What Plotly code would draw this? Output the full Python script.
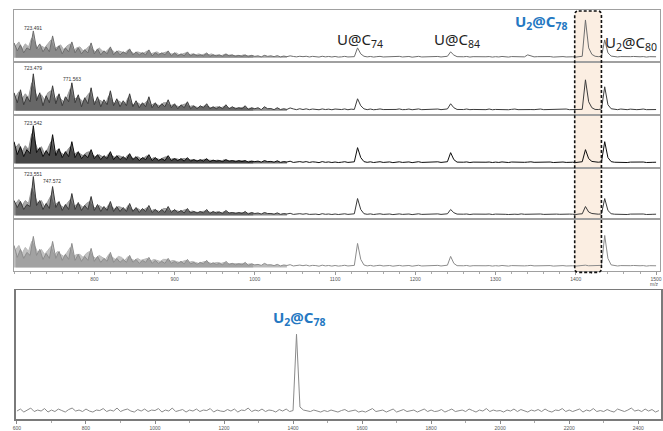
import plotly.graph_objects as go

W, H = 663, 431

# ---------------- data (relative intensities) ----------------
# Top stack: profile spectra sampled every 4 m/z starting at 700 (dark traces)
TOP_START, TOP_STEP = 700, 4
# lighter overlay traces in the low-mass region, sampled every 4 m/z starting at 702
LIGHT_START = 702
# samples of the dense low-mass (cluster) region drawn as filled profile
CLUSTER_SAMPLES = 86

p1_dark = [
    15, 7, 13, 5, 10, 8, 27, 9, 14, 6,
    11, 6, 22, 7, 12, 4, 10, 6, 16, 5,
    10, 4, 8, 5, 15, 4, 9, 3, 7, 4,
    11, 3, 7, 3, 6, 4, 9, 3, 6, 3,
    5, 3, 8, 2, 5, 3, 5, 3, 7, 2,
    5, 2, 4, 2, 6, 2, 4, 2, 3, 2,
    5, 1.5, 3, 2, 3, 1.5, 4, 2, 3, 1.5,
    2.5, 1.5, 3, 1.2, 2.5, 1.5, 2, 1, 2.5, 1.5,
    2, 1.2, 2.2, 1, 1.8, 1.2, 2, 1.4, 1, 1.6,
    1.2, 1.6, 0.9, 1.5, 1.1, 0.8, 1.6, 1, 1.4, 0.9,
    1.4, 0.8, 1, 1.5, 0.9, 1.3, 1.2, 10, 4, 1.6,
    1, 1.4, 0.8, 1.2, 1.5, 0.9, 1.1, 1.3, 0.8, 1.2,
    1.5, 0.9, 1.1, 1.4, 0.7, 1.2, 1.5, 0.9, 1, 1.3,
    0.8, 1.2, 1.4, 0.9, 1.1, 1.6, 6, 2.8, 1.2, 0.9,
    1.1, 1.4, 0.8, 1.2, 1, 1.5, 0.9, 1.1, 1.3, 0.8,
    1.2, 0.9, 1.4, 1, 0.8, 1.3, 1.1, 0.9, 1.4, 1,
    3, 1.6, 1, 1.2, 1.4, 0.9, 1.1, 1.3, 0.8, 1.2,
    1, 1.3, 0.9, 1.2, 1.1, 0.8, 1.4, 1.6, 38, 10,
    3.5, 1.6, 1.2, 1.5, 18, 5, 1.8, 1.1, 0.9, 1.3,
    1.1, 0.8, 1.2, 1.4, 0.9, 1.1, 1.3, 0.8, 1.2, 1,
    1.1,
]
p1_light = [
    12, 16, 9, 14, 11, 20, 15, 8, 12, 10,
    14, 18, 9, 11, 13, 8, 12, 14, 7, 10,
    11, 7, 9, 12, 8, 6, 10, 7, 6, 9,
    8, 5, 7, 6, 5, 8, 6, 4, 6, 5,
    5, 7, 4, 5, 6, 4, 5, 6, 4, 4,
    5, 3, 4, 5, 3, 4, 3, 4, 3, 4,
    3, 4, 2.5, 3, 2, 3.5, 2.5, 3, 2, 2.5,
    2, 3, 1.8, 2.4, 1.5,
]

p2_dark = [
    18, 8, 21, 6, 14, 9, 37, 10, 18, 5,
    15, 8, 25, 7, 17, 5, 14, 9, 28, 8,
    16, 4, 13, 7, 23, 6, 14, 4, 11, 6,
    20, 5, 12, 4, 10, 5, 17, 4, 10, 3,
    8, 4, 14, 3, 8, 3, 7, 4, 11, 3,
    7, 2, 6, 3, 9, 2, 5, 2, 5, 3,
    7, 2, 4, 2, 4, 2, 6, 2, 4, 2,
    3, 2, 5, 1.2, 3, 2, 3, 1.1, 4, 2,
    2.2, 1.1, 3, 1.2, 2, 1.3, 2.8, 1.8, 1.1, 2,
    1.2, 1.9, 1.1, 1.7, 1.3, 1, 1.8, 1.2, 1.6, 1,
    1.7, 1.1, 1.2, 1.8, 1, 1.6, 1.3, 12, 5, 1.9,
    1.1, 1.7, 1, 1.3, 1.8, 1.2, 1.1, 1.6, 1, 1.3,
    1.8, 1.1, 1.2, 1.7, 1, 1.3, 1.8, 1.1, 1.2, 1.6,
    1, 1.3, 1.7, 1.1, 1.2, 1.8, 7, 3, 1.3, 1.1,
    1.2, 1.7, 1.1, 1.3, 1.1, 1.6, 1.2, 1.1, 1.7, 1,
    1.3, 1.1, 1.6, 1.2, 1, 1.4, 1.7, 1.1, 1.3, 1.2,
    1.6, 1.2, 1.1, 1.3, 1.7, 1.1, 1.2, 1.3, 1.6, 1.1,
    1.2, 1.3, 1.7, 1.1, 1.2, 1.3, 1.1, 1.4, 31, 9,
    3, 1.3, 1.2, 1.8, 24, 6, 2, 1.2, 1.1, 1.7,
    1.2, 1.1, 1.6, 1.2, 1.1, 1.3, 1.7, 1.1, 1.2, 1.3,
    1.2,
]
p2_light = [
    14, 19, 12, 17, 13, 28, 19, 12, 16, 11,
    18, 20, 10, 15, 12, 9, 14, 22, 11, 13,
    12, 9, 14, 18, 10, 8, 11, 9, 7, 15,
    9, 7, 10, 8, 6, 13, 7, 6, 8, 6,
    7, 10, 5, 7, 6, 5, 8, 8, 5, 6,
    5, 4, 6, 7, 4, 5, 4, 3, 4, 5,
    4, 3, 3.5, 4, 3, 4.5, 3, 2.5, 3, 2.5,
    3, 3.5, 2, 2.5, 2,
]

p3_dark = [
    22, 9, 17, 7, 14, 10, 38, 11, 16, 7,
    13, 8, 29, 8, 15, 6, 12, 7, 22, 6,
    12, 5, 9, 6, 14, 5, 9, 4, 8, 5,
    12, 4, 8, 4, 7, 4, 10, 4, 7, 3,
    6, 4, 9, 3, 6, 3, 5, 3, 8, 3,
    5, 3, 5, 2.5, 6, 2.5, 4, 2.5, 4, 2.5,
    5, 2, 3.5, 2.5, 3, 2, 4, 2.5, 3, 2,
    3, 2, 3, 1.5, 2.5, 2, 2.5, 1.5, 3, 2,
    2.2, 1.5, 2.8, 1.3, 2, 1.6, 2.4, 1.2, 1.8, 2,
    1.4, 2, 1.2, 1.8, 1.5, 1, 2, 1.3, 1.7, 1.1,
    1.6, 1.1, 1.4, 1.9, 1.2, 1.5, 1.8, 16, 6, 2,
    1.3, 1.8, 1.1, 1.5, 1.9, 1.2, 1.4, 1.7, 1, 1.5,
    1.8, 1.2, 1.4, 1.7, 1, 1.5, 1.9, 1.2, 1.3, 1.6,
    1.1, 1.5, 1.8, 1.2, 1.4, 1.9, 11, 4, 1.5, 1.2,
    1.4, 1.7, 1.1, 1.5, 1.3, 1.8, 1.2, 1.4, 1.6, 1.1,
    1.5, 1.2, 1.7, 1.3, 1.1, 1.6, 1.4, 1.2, 1.7, 1.3,
    1.5, 1.8, 1.3, 1.5, 1.7, 1.2, 1.4, 1.6, 1.1, 1.5,
    1.3, 1.6, 1.2, 1.5, 1.4, 1.1, 1.7, 1.9, 14, 5,
    2.2, 1.6, 1.4, 1.8, 22, 6, 2, 1.4, 1.2, 1.6,
    1.4, 1.1, 1.5, 1.7, 1.2, 1.4, 1.6, 1.1, 1.5, 1.3,
    1.4,
]
p3_light = [
    16, 20, 12, 18, 14, 30, 22, 12, 17, 10,
    15, 22, 10, 14, 11, 9, 13, 17, 9, 11,
    10, 8, 11, 12, 8, 7, 9, 7, 6, 10,
    8, 6, 8, 7, 5, 9, 6, 5, 7, 5,
    6, 8, 4, 6, 5, 4, 6, 7, 4, 5,
    5, 4, 5, 5, 3.5, 4, 3.5, 3, 3.5, 4.5,
    3.5, 3, 3, 3.5, 2.5, 4, 2.5, 2.5, 3, 2.5,
    2.5, 3, 2, 2.5, 2,
]

p4_dark = [
    15, 8, 14, 6, 11, 9, 39, 10, 15, 6,
    12, 7, 29, 8, 14, 5, 11, 6, 22, 6,
    13, 5, 10, 6, 19, 5, 11, 4, 9, 5,
    14, 4, 9, 4, 8, 4, 12, 4, 8, 3,
    7, 4, 10, 3, 6, 3, 6, 3, 9, 3,
    6, 3, 5, 2.5, 7, 2.5, 4, 2.5, 4, 2.5,
    6, 2, 4, 2.5, 3.5, 2, 5, 2.5, 3, 2,
    3, 2, 4, 1.5, 3, 2, 2.5, 1.5, 3, 2,
    2, 1.4, 2.6, 1.2, 1.9, 1.5, 2.2, 1.1, 1.7, 1.8,
    1.3, 1.8, 1.1, 1.6, 1.4, 0.9, 1.8, 1.2, 1.5, 1,
    1.5, 1, 1.3, 1.7, 1.1, 1.4, 1.7, 17, 6, 1.8,
    1.2, 1.6, 1, 1.4, 1.7, 1.1, 1.3, 1.5, 0.9, 1.4,
    1.6, 1.1, 1.3, 1.5, 0.9, 1.4, 1.7, 1.1, 1.2, 1.5,
    1, 1.4, 1.6, 1.1, 1.3, 1.7, 6, 2.8, 1.4, 1.1,
    1.3, 1.5, 1, 1.4, 1.2, 1.6, 1.1, 1.3, 1.5, 1,
    1.4, 1.1, 1.5, 1.2, 1, 1.5, 1.3, 1.1, 1.6, 1.2,
    1.4, 1.6, 1.2, 1.4, 1.5, 1.1, 1.3, 1.5, 1, 1.4,
    1.2, 1.5, 1.1, 1.4, 1.3, 1, 1.5, 1.7, 9, 3.5,
    2, 1.5, 1.3, 1.6, 17, 5, 1.8, 1.3, 1.1, 1.5,
    1.3, 1, 1.4, 1.6, 1.1, 1.3, 1.5, 1, 1.4, 1.2,
    1.3,
]
p4_light = [
    12, 16, 10, 15, 12, 27, 19, 11, 15, 9,
    14, 20, 9, 13, 10, 8, 12, 16, 9, 11,
    11, 8, 12, 14, 9, 7, 10, 8, 6, 11,
    8, 6, 9, 8, 5, 10, 6, 5, 7, 5,
    6, 8, 4, 6, 5, 4, 7, 7, 4, 5,
    5, 4, 5, 6, 3.5, 4.5, 3.5, 3, 4, 4.5,
    3.5, 3, 3, 4, 2.5, 4, 2.5, 2.5, 3, 2.5,
    2.5, 3, 2, 2.5, 2,
]

p5_dark = [
    22, 10, 18, 9, 15, 12, 31, 12, 18, 8,
    14, 9, 26, 9, 16, 7, 13, 8, 24, 7,
    13, 6, 11, 7, 19, 6, 11, 5, 9, 6,
    15, 5, 9, 5, 8, 5, 12, 5, 8, 4,
    7, 5, 10, 4, 7, 4, 6, 4, 9, 4,
    6, 4, 6, 3.5, 8, 3.5, 5, 3, 5, 3.5,
    7, 3, 4.5, 3, 4, 2.5, 6, 3, 4, 2.5,
    3.5, 2.5, 5, 2, 3.5, 2.5, 3, 2, 4, 2.5,
    2.6, 1.8, 3, 1.5, 2.4, 1.9, 2.7, 1.4, 2.1, 2.3,
    1.7, 2.3, 1.4, 2, 1.8, 1.2, 2.2, 1.5, 1.9, 1.3,
    1.9, 1.3, 1.6, 2.1, 1.4, 1.7, 2, 24, 8, 2.4,
    1.5, 2, 1.3, 1.8, 2.1, 1.4, 1.6, 1.9, 1.2, 1.7,
    2, 1.4, 1.6, 1.9, 1.2, 1.7, 2.1, 1.4, 1.5, 1.8,
    1.3, 1.7, 2, 1.4, 1.6, 2.2, 11, 4, 1.7, 1.4,
    1.6, 1.9, 1.3, 1.7, 1.5, 2, 1.4, 1.6, 1.8, 1.3,
    1.7, 1.4, 1.9, 1.5, 1.3, 1.8, 1.6, 1.4, 1.9, 1.5,
    1.7, 2, 1.5, 1.7, 1.9, 1.4, 1.6, 1.8, 1.3, 1.7,
    1.5, 1.8, 1.4, 1.7, 1.6, 1.3, 1.8, 1.9, 2.2, 1.6,
    1.8, 1.5, 1.6, 2, 32, 9, 2.5, 1.6, 1.4, 1.8,
    1.6, 1.3, 1.7, 1.9, 1.4, 1.6, 1.8, 1.3, 1.7, 1.5,
    1.6,
]
p5_light = [
    18, 22, 14, 20, 16, 26, 21, 14, 18, 13,
    17, 21, 12, 16, 13, 11, 15, 20, 11, 13,
    13, 10, 14, 16, 11, 9, 12, 10, 8, 13,
    10, 8, 11, 10, 7, 11, 8, 7, 9, 7,
    8, 9, 6, 8, 7, 6, 8, 8, 6, 7,
    6, 5, 6, 7, 5, 6, 5, 4, 5, 6,
    5, 4, 4.5, 5, 4, 5, 3.5, 3.5, 4, 3.5,
    3.5, 4, 3, 3.5, 3,
]

# Bottom spectrum: sampled every 10 m/z from 600
BOT_START, BOT_STEP = 600, 10
bottom_vals = [
    2, 4, 1, 3, 5, 1.5, 3, 2, 4.5, 1,
    3, 1.5, 4, 2.5, 1, 3.5, 5, 2, 3, 1.5,
    4, 2, 1, 3, 2.5, 4.5, 1.5, 3, 2, 5,
    1.5, 3, 4, 2, 1, 3.5, 2, 4, 1.5, 3,
    2.5, 4.5, 1, 3, 2, 5, 1.5, 2.5, 3.5, 1,
    3, 2, 4, 1.5, 3, 2.5, 4.5, 1, 3, 2,
    1.5, 3.5, 2, 4, 1, 3, 2.5, 5, 1.5, 3,
    2, 4, 1.5, 3, 2.5, 1, 3.5, 2, 4, 1.5,
    2.5, 79, 6, 3, 2, 1.5, 3, 2, 1, 2.5,
    1.5, 3, 2, 1, 2.5, 3.5, 1.5, 2, 3, 1,
    2, 1, 3, 4.5, 1.5, 2, 3, 1, 2.5, 4,
    1, 2.5, 3.5, 1.5, 2, 3, 1, 2.5, 4, 1.5,
    3, 1.5, 2, 3.5, 1, 2.5, 4, 1.5, 2, 3,
    1.5, 4, 2.5, 1, 3, 2, 4.5, 1.5, 3, 2,
    2.5, 1, 3, 2, 4, 1.5, 3.5, 2, 1, 3,
    2, 3.5, 1.5, 4, 2, 1, 3, 2.5, 4.5, 1.5,
    3, 1.5, 2.5, 4, 1, 3, 2, 4.5, 1.5, 2.5,
    1.5, 3.5, 2, 1, 4, 2.5, 1.5, 3, 5, 2,
    3, 1.5, 4, 2, 3.5, 1, 2.5,
]

top_ticks = [800, 900, 1000, 1100, 1200, 1300, 1400, 1500]
bottom_ticks = [600, 800, 1000, 1200, 1400, 1600, 1800, 2000, 2200, 2400]

peak_tags = [  # (panel, m/z of tagged peak, label, height of label in panel units)
    (1, 723.491, "723.491", 30),
    (2, 723.479, "723.479", 43),
    (2, 771.563, "771.563", 32),
    (3, 723.542, "723.542", 41),
    (4, 723.551, "723.551", 42),
    (4, 747.572, "747.572", 35),
]

# ---------------- figure ----------------
def mz_axis(start, step, vals):
    return [start + step * i for i in range(len(vals))]

def rgba(hex_color, a):
    h = hex_color.lstrip("#")
    return f"rgba({int(h[0:2], 16)},{int(h[2:4], 16)},{int(h[4:6], 16)},{a})"

panels = [
    (p1_dark, p1_light, "#6e6e6e", "#a9a9a9"),
    (p2_dark, p2_light, "#3c3c3c", "#9a9a9a"),
    (p3_dark, p3_light, "#0d0d0d", "#8a8a8a"),
    (p4_dark, p4_light, "#3a3a3a", "#9a9a9a"),
    (p5_dark, p5_light, "#8c8c8c", "#b8b8b8"),
]
row_px = [(10, 62), (62, 115), (115, 168), (168, 220), (220, 272)]

def py(px):
    return 1 - px / H

def pxx(px):
    return px / W

fig = go.Figure()
TOP_RANGE = [699.8, 1504.9]
layout_axes = {}
for i, ((dark, light, cd, cl), (t, b)) in enumerate(zip(panels, row_px), start=1):
    xa = "x" if i == 1 else f"x{i}"
    ya = "y" if i == 1 else f"y{i}"
    mz_dark = mz_axis(TOP_START, TOP_STEP, dark)
    fig.add_trace(go.Scatter(x=mz_axis(LIGHT_START, TOP_STEP, light), y=light, mode="lines",
                             line=dict(color=cl, width=1), fill="tozeroy", fillcolor=rgba(cl, 0.85),
                             xaxis=xa, yaxis=ya, hoverinfo="skip"))
    # dense low-mass cluster region: filled profile
    fig.add_trace(go.Scatter(x=mz_dark[:CLUSTER_SAMPLES], y=dark[:CLUSTER_SAMPLES], mode="lines",
                             line=dict(color=cd, width=1), fill="tozeroy", fillcolor=rgba(cd, 0.6),
                             xaxis=xa, yaxis=ya, hoverinfo="skip"))
    # rest of the spectrum: thin profile line
    fig.add_trace(go.Scatter(x=mz_dark[CLUSTER_SAMPLES - 1:], y=dark[CLUSTER_SAMPLES - 1:], mode="lines",
                             line=dict(color=cd, width=1), xaxis=xa, yaxis=ya, hoverinfo="skip"))
    h = b - t
    last = (i == 5)
    layout_axes["xaxis" if i == 1 else f"xaxis{i}"] = dict(
        domain=[pxx(11), pxx(662)], range=TOP_RANGE, anchor=ya,
        showline=True, mirror=True, linecolor="#a0a0a0", linewidth=1,
        showgrid=False, zeroline=False, fixedrange=True,
        showticklabels=last,
        ticks="outside" if last else "", ticklen=3, tickcolor="#999999",
        tickvals=top_ticks if last else None,
        ticktext=[str(v) for v in top_ticks] if last else None,
        tickfont=dict(size=5, color="#555555", family="Liberation Sans"),
        minor=dict(dtick=20, ticks="outside", ticklen=2, tickcolor="#aaaaaa") if last else None,
    )
    layout_axes["yaxis" if i == 1 else f"yaxis{i}"] = dict(
        domain=[py(b), py(t)], range=[-4, h - 4], anchor=xa,
        showline=True, mirror=True, linecolor="#a0a0a0", linewidth=1,
        showgrid=False, zeroline=False, showticklabels=False, fixedrange=True,
    )

fig.add_trace(go.Scatter(x=mz_axis(BOT_START, BOT_STEP, bottom_vals), y=bottom_vals, mode="lines",
                         line=dict(color="#8a8a8a", width=1), xaxis="x6", yaxis="y6", hoverinfo="skip"))
layout_axes["xaxis6"] = dict(
    domain=[pxx(13), pxx(663)], range=[597, 2466], anchor="y6",
    showline=True, mirror=True, linecolor="#7a7a7a", linewidth=1.5,
    showgrid=False, zeroline=False, ticks="outside", ticklen=3, tickcolor="#888888",
    tickvals=bottom_ticks, ticktext=[str(v) for v in bottom_ticks],
    tickfont=dict(size=5, color="#555555", family="Liberation Sans"),
    minor=dict(dtick=100, ticks="outside", ticklen=2, tickcolor="#aaaaaa"),
    fixedrange=True,
)
layout_axes["yaxis6"] = dict(
    domain=[py(420), py(291)], range=[-6, 123], anchor="x6",
    showline=True, mirror=True, linecolor="#7a7a7a", linewidth=1.5,
    showgrid=False, zeroline=False, showticklabels=False, fixedrange=True,
)

# highlighted U2@C78 window (dashed, rounded box spanning all five top spectra)
x0, x1 = 1398.6, 1431.9
yt, yb = py(11), py(273)
rx, ry = 5.0, 4.0 / H
path = (f"M {x0+rx},{yt} L {x1-rx},{yt} Q {x1},{yt} {x1},{yt-ry} "
        f"L {x1},{yb+ry} Q {x1},{yb} {x1-rx},{yb} L {x0+rx},{yb} "
        f"Q {x0},{yb} {x0},{yb+ry} L {x0},{yt-ry} Q {x0},{yt} {x0+rx},{yt} Z")
shapes = [
    dict(type="path", path=path, xref="x5", yref="paper", layer="below",
         fillcolor="#fbeee2", line=dict(width=0)),
    dict(type="path", path=path, xref="x5", yref="paper", layer="above",
         fillcolor="rgba(0,0,0,0)", line=dict(color="#111111", width=1.6, dash="3px,2px")),
]

annotations = []
big = dict(family="Noto Sans", size=15, color="#222222")
blue = dict(family="Noto Sans", size=15, color="#2478c2")
annotations.append(dict(text="U@C<sub>74</sub>", x=pxx(360), y=py(40), xref="paper", yref="paper",
                        showarrow=False, font=big, xanchor="center", yanchor="middle"))
annotations.append(dict(text="U@C<sub>84</sub>", x=pxx(457), y=py(40), xref="paper", yref="paper",
                        showarrow=False, font=big, xanchor="center", yanchor="middle"))
annotations.append(dict(text="<b>U<sub>2</sub>@C<sub>78</sub></b>", x=pxx(542), y=py(22), xref="paper",
                        yref="paper", showarrow=False, font=blue, xanchor="center", yanchor="middle"))
annotations.append(dict(text="U<sub>2</sub>@C<sub>80</sub>", x=pxx(605), y=py(43), xref="paper",
                        yref="paper", showarrow=False, font=big, xanchor="left", yanchor="middle"))
annotations.append(dict(text="<b>U<sub>2</sub>@C<sub>78</sub></b>", x=pxx(298), y=py(319), xref="paper",
                        yref="paper", showarrow=False, font=blue, xanchor="center", yanchor="middle"))
annotations.append(dict(text="m/z", x=pxx(656), y=py(285), xref="paper", yref="paper", showarrow=False,
                        font=dict(size=5, color="#555555", family="Liberation Sans"),
                        xanchor="center", yanchor="middle"))
for panel, mz, label, ht in peak_tags:
    xa = "x" if panel == 1 else f"x{panel}"
    ya = "y" if panel == 1 else f"y{panel}"
    annotations.append(dict(text=label, x=mz, y=ht, xref=xa, yref=ya,
                            showarrow=False, xanchor="center", yanchor="middle",
                            font=dict(size=5, color="#333333", family="Liberation Sans")))

fig.update_layout(
    width=W, height=H, margin=dict(l=0, r=0, t=0, b=0),
    paper_bgcolor="white", plot_bgcolor="rgba(0,0,0,0)",
    showlegend=False, shapes=shapes, annotations=annotations, hovermode=False,
    **layout_axes,
)

fig.write_html("out.html", config={"displayModeBar": False, "staticPlot": True},
               post_script="document.body.style.margin='0';document.body.style.overflow='hidden';")
